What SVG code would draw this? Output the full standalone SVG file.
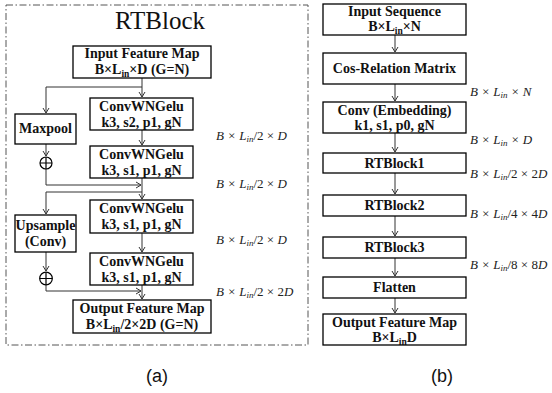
<svg xmlns="http://www.w3.org/2000/svg" width="552" height="393" viewBox="0 0 552 393">
<style>
.box{fill:#fff;stroke:#000;stroke-width:1.3}
.t{font-family:"Liberation Serif","Times New Roman",Times,"DejaVu Serif",serif;font-weight:bold;font-size:14px;text-anchor:middle;fill:#111}
.a{font-family:"Liberation Serif","Times New Roman",Times,"DejaVu Serif",serif;font-style:italic;font-size:13px;fill:#222}
.ti{font-family:"Liberation Serif","Times New Roman",Times,"DejaVu Serif",serif;font-size:25px;text-anchor:middle;fill:#111}
.ln{fill:none;stroke:#333;stroke-width:1}
.lab{font-family:"Liberation Sans",Arial,sans-serif;font-size:18px;text-anchor:middle;fill:#111}
</style>
<defs>
<marker id="ar" markerWidth="8" markerHeight="8" refX="6" refY="4" orient="auto" markerUnits="userSpaceOnUse">
<path d="M1,1 L6,4 L1,7" fill="none" stroke="#333" stroke-width="1"/>
</marker>
</defs>
<rect x="6" y="5" width="302" height="340" fill="none" stroke="#555" stroke-width="1" stroke-dasharray="7 2.5 1.5 2.5"/>
<text class="ti" x="160" y="29">RTBlock</text>

<g id="connectors">
<path class="ln" d="M142,78 V97" marker-end="url(#ar)"/>
<path class="ln" d="M142,87 H46 V113" marker-end="url(#ar)"/>
<path class="ln" d="M142,130 V145" marker-end="url(#ar)"/>
<path class="ln" d="M46,144 V156" marker-end="url(#ar)"/>
<path class="ln" d="M46,169 V185 H141" marker-end="url(#ar)"/>
<path class="ln" d="M142,178 V199" marker-end="url(#ar)"/>
<path class="ln" d="M142,192 H46 V214" marker-end="url(#ar)"/>
<path class="ln" d="M46,252 V271" marker-end="url(#ar)"/>
<path class="ln" d="M46,284.5 V291 H141" marker-end="url(#ar)"/>
<path class="ln" d="M142,233 V252" marker-end="url(#ar)"/>
<path class="ln" d="M142,285 V299" marker-end="url(#ar)"/>
<path class="ln" d="M395,35 V52" marker-end="url(#ar)"/>
<path class="ln" d="M395,84 V101" marker-end="url(#ar)"/>
<path class="ln" d="M395,133 V152" marker-end="url(#ar)"/>
<path class="ln" d="M395,173 V194" marker-end="url(#ar)"/>
<path class="ln" d="M395,216 V236" marker-end="url(#ar)"/>
<path class="ln" d="M395,258 V276" marker-end="url(#ar)"/>
<path class="ln" d="M395,298 V313" marker-end="url(#ar)"/>
</g>

<g id="input-fm"><rect class="box" x="73" y="46" width="138" height="32"/>
<text class="t" x="142" y="58">Input Feature Map</text>
<text class="t" x="142" y="74">B×L<tspan font-size="9.5" dy="3">in</tspan><tspan dy="-3">×D (G=N)</tspan></text></g>

<g id="conv1"><rect class="box" x="90" y="98" width="103" height="32"/>
<text class="t" x="141.5" y="111">ConvWNGelu</text><text class="t" x="141.5" y="127">k3, s2, p1, gN</text></g>
<g id="conv2"><rect class="box" x="90" y="146" width="103" height="32"/>
<text class="t" x="141.5" y="159">ConvWNGelu</text><text class="t" x="141.5" y="175">k3, s1, p1, gN</text></g>
<g id="conv3"><rect class="box" x="90" y="200" width="103" height="33"/>
<text class="t" x="141.5" y="213">ConvWNGelu</text><text class="t" x="141.5" y="229">k3, s1, p1, gN</text></g>
<g id="conv4"><rect class="box" x="90" y="253" width="103" height="32"/>
<text class="t" x="141.5" y="266">ConvWNGelu</text><text class="t" x="141.5" y="282">k3, s1, p1, gN</text></g>
<g id="output-fm"><rect class="box" x="73" y="300" width="138" height="33"/>
<text class="t" x="142" y="313">Output Feature Map</text>
<text class="t" x="142" y="329">B×L<tspan font-size="9.5" dy="3">in</tspan><tspan dy="-3">/2×2D (G=N)</tspan></text></g>

<g id="maxpool"><rect class="box" x="15" y="114" width="61" height="30"/>
<text class="t" x="45.5" y="133">Maxpool</text></g>
<g id="upsample"><rect class="box" x="15" y="215" width="61" height="37"/>
<text class="t" x="45.5" y="230">Upsample</text><text class="t" x="45.5" y="246">(Conv)</text></g>

<g id="plus1"><circle cx="46" cy="163" r="6" fill="#fff" stroke="#000" stroke-width="1.2"/>
<path d="M40,163 H52 M46,157 V169" stroke="#000" stroke-width="1.2"/></g>
<g id="plus2"><circle cx="46" cy="278.5" r="6.3" fill="#fff" stroke="#000" stroke-width="1.2"/>
<path d="M39.7,278.5 H52.3 M46,272.2 V284.8" stroke="#000" stroke-width="1.2"/></g>

<text class="a" x="216" y="140">B × L<tspan font-size="9" dy="2">in</tspan><tspan dy="-2" font-style="normal">/2 × </tspan>D</text>
<text class="a" x="216" y="188">B × L<tspan font-size="9" dy="2">in</tspan><tspan dy="-2" font-style="normal">/2 × </tspan>D</text>
<text class="a" x="216" y="244">B × L<tspan font-size="9" dy="2">in</tspan><tspan dy="-2" font-style="normal">/2 × </tspan>D</text>
<text class="a" x="216" y="296">B × L<tspan font-size="9" dy="2">in</tspan><tspan dy="-2" font-style="normal">/2 × 2</tspan>D</text>

<g id="input-seq"><rect class="box" x="323" y="4" width="143" height="31"/>
<text class="t" x="394.5" y="16">Input Sequence</text>
<text class="t" x="394.5" y="31">B×L<tspan font-size="9.5" dy="3">in</tspan><tspan dy="-3">×N</tspan></text></g>
<g id="cos-rel"><rect class="box" x="323" y="53" width="143" height="31"/>
<text class="t" x="394.5" y="73">Cos-Relation Matrix</text></g>
<g id="conv-emb"><rect class="box" x="323" y="102" width="143" height="31"/>
<text class="t" x="394.5" y="115">Conv (Embedding)</text><text class="t" x="394.5" y="130">k1, s1, p0, gN</text></g>
<g id="rtb1"><rect class="box" x="323" y="153" width="143" height="20"/>
<text class="t" x="394.5" y="168">RTBlock1</text></g>
<g id="rtb2"><rect class="box" x="323" y="195" width="143" height="21"/>
<text class="t" x="394.5" y="210">RTBlock2</text></g>
<g id="rtb3"><rect class="box" x="323" y="237" width="143" height="21"/>
<text class="t" x="394.5" y="252">RTBlock3</text></g>
<g id="flatten"><rect class="box" x="323" y="277" width="143" height="21"/>
<text class="t" x="394.5" y="292">Flatten</text></g>
<g id="out-b"><rect class="box" x="323" y="314" width="143" height="31"/>
<text class="t" x="394.5" y="327">Output Feature Map</text>
<text class="t" x="394.5" y="342">B×L<tspan font-size="9.5" dy="3">in</tspan><tspan dy="-3">D</tspan></text></g>

<text class="a" x="470" y="96">B × L<tspan font-size="9" dy="2">in</tspan><tspan dy="-2"> × N</tspan></text>
<text class="a" x="470" y="144">B × L<tspan font-size="9" dy="2">in</tspan><tspan dy="-2"> × D</tspan></text>
<text class="a" x="470" y="178">B × L<tspan font-size="9" dy="2">in</tspan><tspan dy="-2" font-style="normal">/2 × 2</tspan>D</text>
<text class="a" x="470" y="218">B × L<tspan font-size="9" dy="2">in</tspan><tspan dy="-2" font-style="normal">/4 × 4</tspan>D</text>
<text class="a" x="470" y="269">B × L<tspan font-size="9" dy="2">in</tspan><tspan dy="-2" font-style="normal">/8 × 8</tspan>D</text>

<text class="lab" x="157" y="382">(a)</text>
<text class="lab" x="442" y="382">(b)</text>
</svg>
